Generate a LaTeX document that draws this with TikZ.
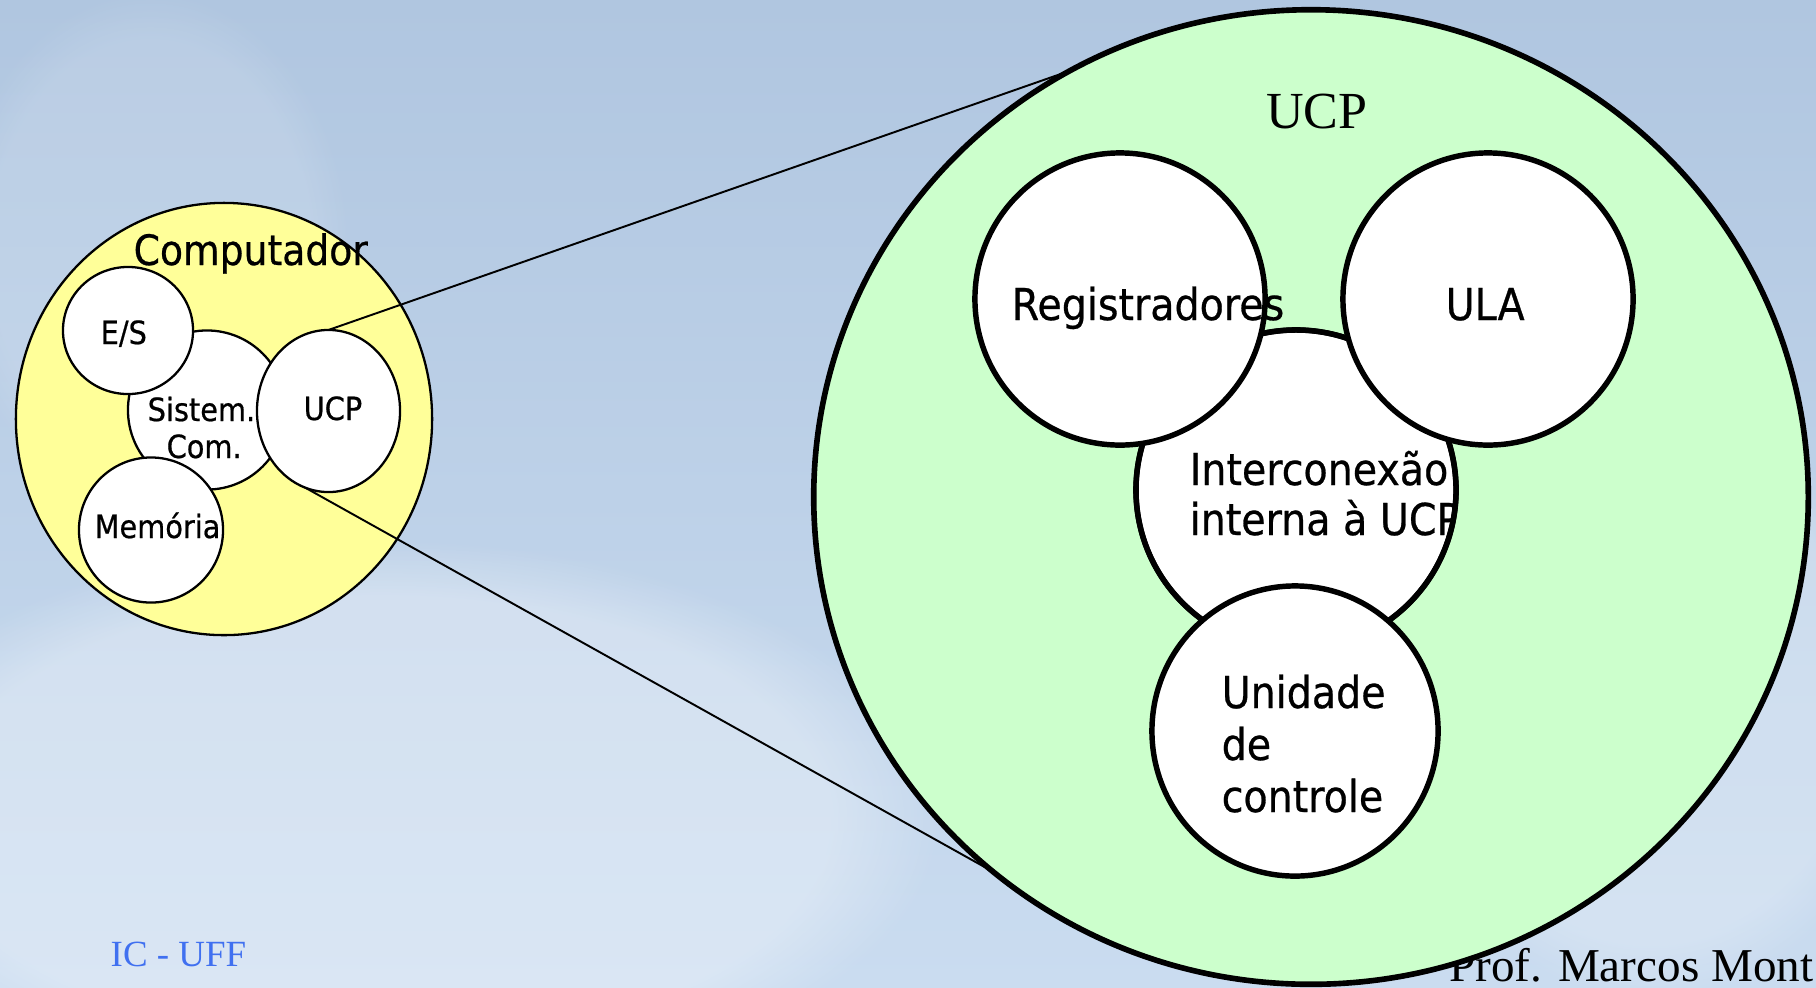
\documentclass[tikz,border=0pt]{standalone}
\usepackage{fontspec}
\setmainfont{Liberation Serif}
\newfontfamily\comic{DejaVu Sans}[FakeStretch=0.9,FakeBold=0.6]
\usetikzlibrary{shapes.geometric,fadings}

\definecolor{bgtop}{RGB}{176,198,224}
\definecolor{bgbot}{RGB}{202,220,240}
\definecolor{compfill}{RGB}{255,255,153}
\definecolor{cpufill}{RGB}{204,255,204}
\definecolor{icblue}{RGB}{64,112,240}

\begin{document}
\begin{tikzpicture}[x=0.01cm,y=-0.01cm,
  blob/.style={ellipse, draw=black, fill=white, inner sep=0pt, outer sep=0pt},
  thinblob/.style={blob, line width=0.65pt},
  thickblob/.style={blob, line width=1.55pt},
  smalltxt/.style={inner sep=0pt, anchor=base west, font=\comic\fontsize{9.1pt}{11pt}\selectfont},
  bigtxt/.style={inner sep=0pt, anchor=base west, font=\comic\fontsize{12.5pt}{14.5pt}\selectfont},
  zoomline/.style={line width=0.55pt, black}
]
\useasboundingbox (0,0) rectangle (1816,987);
\begin{scope}
\clip (0,0) rectangle (1816,987);

% soft blue backdrop
\shade[top color=bgtop, bottom color=bgbot] (0,0) rectangle (1816,987);
\fill[white, opacity=0.30, path fading=circle with fuzzy edge 20 percent]
  (380,820) ellipse [x radius=560, y radius=280];
\fill[white, opacity=0.22, path fading=circle with fuzzy edge 20 percent]
  (1650,700) ellipse [x radius=260, y radius=300];
\fill[white, opacity=0.12, path fading=circle with fuzzy edge 20 percent]
  (150,250) ellipse [x radius=200, y radius=260];

% footer texts
\node[inner sep=0pt, anchor=base west, text=icblue, font=\fontsize{10.5pt}{12pt}\selectfont]
  (ic) at (110,966) {IC - UFF};
\node[inner sep=0pt, anchor=base east, font=\fontsize{13.4pt}{15pt}\selectfont]
  (credit) at (1814,981) {Prof. Marcos Mont};

% the computer and its parts
\node[ellipse, draw=black, fill=compfill, line width=0.65pt, inner sep=0pt, outer sep=0pt,
  minimum width=4.16cm, minimum height=4.32cm] (comp) at (224,419) {};
\node[thinblob, minimum width=1.58cm, minimum height=1.59cm] (sist) at (207,410) {};
\node[thinblob, minimum width=1.30cm, minimum height=1.27cm] (es) at (128,330.5) {};
\node[thinblob, minimum width=1.44cm, minimum height=1.45cm] (mem) at (151,530) {};
\node[thinblob, minimum width=1.43cm, minimum height=1.62cm] (ucps) at (328.5,411) {};

\node[smalltxt, font=\comic\fontsize{11.9pt}{14pt}\selectfont] (tcomp) at (133,265) {Computador};
\node[smalltxt] (tes) at (100,344) {E/S};
\node[smalltxt] (tsist) at (147,421) {Sistem.};
\node[smalltxt] (tcom) at (166,458) {Com.};
\node[smalltxt] (tucps) at (303,420) {UCP};
\node[smalltxt] (tmem) at (94,538) {Memória};

% zoom lines towards the CPU detail
\coordinate (tanA) at (1095,62);
\coordinate (tanB) at (1015,884);
\draw[zoomline] (ucps.north) -- (tanA);
\draw[zoomline] (ucps.-107) -- (tanB);

% the CPU detail
\node[thickblob, fill=cpufill, line width=1.6pt,
  minimum width=9.94cm, minimum height=9.74cm] (cpu) at (1311,497) {};
\node[inner sep=0pt, anchor=base, font=\fontsize{14.8pt}{17pt}\selectfont] (tcpu) at (1317,128) {UCP};

\node[thickblob, minimum width=3.2cm, minimum height=3.2cm] (inter) at (1296,490) {};
\begin{scope}
  \clip (inter.center) circle [radius=160];
  \node[bigtxt] (tint1) at (1189,485) {Interconexão};
  \node[bigtxt] (tint2) at (1189,535) {interna à UCP};
\end{scope}
\draw[line width=1.55pt] (inter.center) circle [radius=160];

\node[thickblob, minimum width=2.90cm, minimum height=2.92cm] (reg) at (1120,299) {};
\node[bigtxt] (treg) at (1011,320) {Registradores};
\node[thickblob, minimum width=2.90cm, minimum height=2.92cm] (ula) at (1488,299) {};
\node[bigtxt] (tula) at (1445,320) {ULA};
\node[thickblob, minimum width=2.86cm, minimum height=2.90cm] (unid) at (1295,731) {};
\node[bigtxt] (tun1) at (1221,708) {Unidade};
\node[bigtxt] (tun2) at (1221,760) {de};
\node[bigtxt] (tun3) at (1221,812) {controle};
\end{scope}
\end{tikzpicture}
\end{document}
